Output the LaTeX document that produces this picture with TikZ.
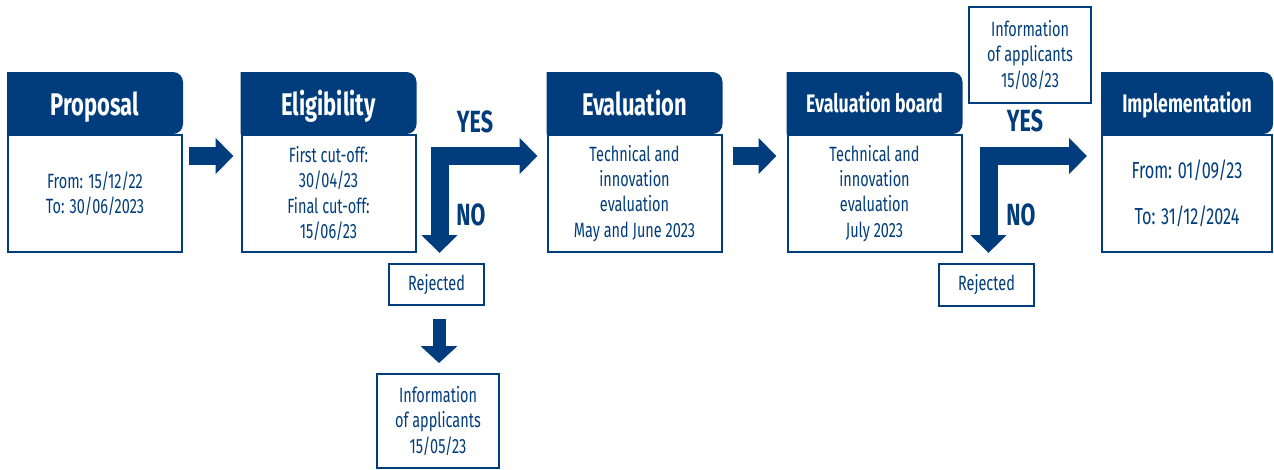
\documentclass[tikz,border=0pt]{standalone}
\usepackage{fontspec}
\setmainfont{Fira Sans}[FakeStretch=0.7]
\usetikzlibrary{positioning,calc,arrows.meta,backgrounds}
\definecolor{navy}{HTML}{013D7C}
\newcommand{\bodyfont}{\fontsize{15.5pt}{18.9pt}\selectfont}
\newcommand{\bigheadfont}{\fontsize{23.5pt}{28pt}\selectfont\bfseries}
\newcommand{\smallheadfont}{\fontsize{19pt}{23pt}\selectfont\bfseries}
\newcommand{\answerfont}{\fontsize{23pt}{28pt}\selectfont\bfseries}

\tikzset{
  stagebody/.style={draw=navy, line width=1.5pt, fill=white, text=navy, align=center,
    inner sep=0pt, minimum width=130.5pt, minimum height=87.75pt, font=\bodyfont},
  stagehead/.style={text=white, inner sep=0pt, outer sep=0pt, minimum width=132pt,
    minimum height=46.5pt, text height=19.2pt, text depth=0pt, font=\bigheadfont},
  smallhead/.style={stagehead, text height=14.6pt, font=\smallheadfont},
  notebox/.style={draw=navy, line width=1.5pt, fill=white, text=navy, align=center,
    inner sep=0pt, font=\bodyfont},
  answer/.style={text=navy, font=\answerfont},
  blockarrow/.style={draw=navy, line width=13.5pt, line join=miter,
    -{Triangle[width=26.25pt,length=13.5pt]}},
  smallarrow/.style={draw=navy, line width=9.75pt,
    -{Triangle[width=27pt,length=12.75pt]}},
}

\begin{document}
\begin{tikzpicture}[x=0.75pt,y=-0.75pt]
\useasboundingbox (0,0) rectangle (1274,469);

% stages
\node[stagebody] (propBody) at (95,193.5) {From: 15/12/22\\To: 30/06/2023};
\node[stagebody] (eligBody) at (328.5,193.5) {First cut-off:\\30/04/23\\Final cut-off:\\15/06/23};
\node[stagebody] (evalBody) at (634.5,193.5) {Technical and\\innovation\\evaluation\\May and June 2023};
\node[stagebody] (boardBody) at (874.5,193.5) {Technical and\\innovation\\evaluation\\July 2023};
\node[stagebody, minimum width=127.5pt, font=\fontsize{17.4pt}{20.9pt}\selectfont] (implBody) at (1187,193.5)
  {From: 01/09/23\\[13.6pt]To: 31/12/2024};

\node[stagehead, above=0pt of propBody] (propHead) {Proposal};
\node[stagehead, above=0pt of eligBody] (eligHead) {Eligibility};
\node[stagehead, above=0pt of evalBody] (evalHead) {Evaluation};
\node[smallhead, above=0pt of boardBody] (boardHead) {Evaluation board};
\node[smallhead, above=0pt of implBody, minimum width=129pt] (implHead) {Implementation};

\begin{scope}[on background layer]
  \foreach \s in {prop,elig,eval,board,impl}
    \fill[navy] (\s Head.south west) -- (\s Head.north west) [rounded corners=7.5pt]
      -- (\s Head.north east) -- (\s Head.south east) [sharp corners] -- cycle;
\end{scope}

% side boxes
\node[notebox, minimum width=71.25pt, minimum height=30.75pt] (rejA) at (436.5,284.5) {Rejected};
\node[notebox, minimum width=91.5pt, minimum height=70.5pt] (infoA) at (438,421) {Information\\of applicants\\15/05/23};
\node[notebox, minimum width=71.25pt, minimum height=31.5pt] (rejB) at (986.5,285) {Rejected};
\node[notebox, minimum width=91.5pt, minimum height=72pt] (infoB) at (1030,55) {Information\\of applicants\\15/08/23};

\node[answer] (yesA) at (475,122) {YES};
\node[answer] (noA) at (471,215) {NO};
\node[answer] (yesB) at (1025,121) {YES};
\node[answer] (noB) at (1021,215) {NO};

% arrows
\draw[blockarrow] ($(propBody.north east)+(6,22)$) -- ($(eligBody.north west)+(-7,22)$);
\draw[blockarrow] ($(evalBody.north east)+(10,22)$) -- ($(boardBody.north west)+(-10,22)$);
\draw[blockarrow, {Triangle[width=26.25pt,length=13.5pt]}-{Triangle[width=26.25pt,length=13.5pt]}]
  ($(evalBody.north west)+(-9,22)$) -- ($(eligBody.north east)+(23,22)$) -- ($(eligBody.south east)+(23,0)$);
\draw[blockarrow, {Triangle[width=26.25pt,length=13.5pt]}-{Triangle[width=26.25pt,length=13.5pt]}]
  ($(implBody.north west)+(-14,22)$) -- ($(boardBody.north east)+(26,22)$) -- ($(boardBody.south east)+(26,0)$);
\draw[smallarrow] ($(rejA.south)+(2.5,13)$) -- ($(infoA.north)+(1,-10)$);
\end{tikzpicture}
\end{document}
